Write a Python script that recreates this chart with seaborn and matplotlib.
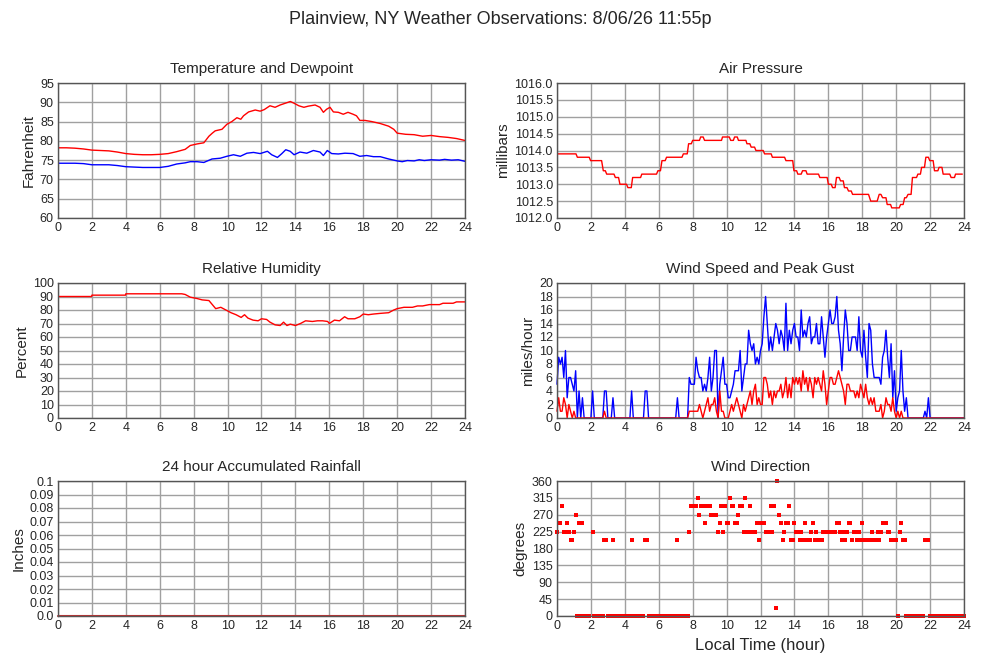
import matplotlib
matplotlib.use("Agg")
import matplotlib.pyplot as plt
import numpy as np
import seaborn as sns

sns.set_style("white")
plt.rcParams['font.family'] = ['Liberation Sans', 'DejaVu Sans']

# temperature / dewpoint (F)
temp_hours = [0, 0.5, 1.0, 1.5, 2.0, 2.5, 3.0, 3.5, 4.0, 4.5, 5.0, 5.5, 6.0, 6.5, 7.0, 7.5,
              7.8, 8.2, 8.6, 8.9, 9.1, 9.27, 9.67, 9.96, 10.25, 10.55, 10.78, 10.94, 11.24,
              11.63, 11.92, 12.16, 12.5, 12.8, 13.1, 13.3, 13.7, 13.9, 14.2, 14.5, 14.76,
              15.16, 15.45, 15.65, 15.84, 16.04, 16.24, 16.53, 16.82, 17.1, 17.4, 17.6, 17.8,
              18.1, 18.5, 19.0, 19.5, 19.8, 20.0, 20.5, 21.0, 21.5, 22.0, 22.5, 23.0, 23.5, 24.0]
temp_f = [78.2, 78.2, 78.1, 77.9, 77.6, 77.5, 77.4, 77.1, 76.7, 76.5, 76.4, 76.4, 76.5, 76.7,
          77.2, 77.8, 78.8, 79.2, 79.5, 81.2, 82.0, 82.6, 83.0, 84.3, 85.0, 86.0, 85.6, 86.5,
          87.5, 88.0, 87.7, 88.1, 89.1, 88.7, 89.3, 89.6, 90.2, 89.8, 89.1, 88.7, 89.0, 89.3,
          88.7, 87.4, 88.2, 88.7, 87.5, 87.4, 86.9, 87.4, 86.9, 86.5, 85.3, 85.3, 85.0, 84.5,
          83.8, 83.0, 82.0, 81.7, 81.6, 81.2, 81.4, 81.1, 80.9, 80.6, 80.1]

dew_hours = [0, 1.0, 1.5, 2.0, 3.0, 3.5, 4.0, 5.0, 6.0, 6.5, 7.0, 7.5, 7.8, 8.2, 8.6, 9.08,
             9.57, 9.96, 10.35, 10.75, 11.14, 11.53, 11.92, 12.35, 12.6, 12.94, 13.2, 13.43,
             13.69, 13.92, 14.27, 14.67, 15.06, 15.45, 15.65, 15.88, 16.14, 16.53, 16.92,
             17.4, 17.8, 18.2, 18.6, 19.0, 19.5, 20.0, 20.3, 20.6, 21.0, 21.3, 21.6, 22.0,
             22.5, 22.8, 23.2, 23.6, 24.0]
dew_f = [74.2, 74.2, 74.1, 73.8, 73.8, 73.6, 73.3, 73.1, 73.1, 73.4, 74.0, 74.3, 74.6, 74.6,
         74.4, 75.3, 75.5, 76.0, 76.4, 76.0, 76.8, 77.0, 76.7, 77.3, 76.4, 75.7, 76.7, 77.7,
         77.3, 76.4, 77.1, 76.8, 77.5, 77.1, 76.2, 77.5, 76.7, 76.6, 76.8, 76.7, 76.0, 76.2,
         75.9, 75.9, 75.3, 74.8, 74.6, 74.9, 74.8, 75.1, 74.9, 75.1, 75.0, 75.2, 75.0, 75.1,
         74.7]

# air pressure: flat levels (start hour, end hour, millibars)
pres_start = [0.0, 1.2, 1.98, 2.73, 2.93, 3.44, 3.71, 4.18, 4.46, 5.0, 5.95, 6.19, 6.46, 7.45,
              7.76, 8.0, 8.47, 8.7, 9.76, 10.24, 10.47, 10.7, 11.2, 11.45, 11.73, 12.24, 12.7,
              13.5, 13.97, 14.2, 14.48, 14.75, 15.5, 16.0, 16.25, 16.48, 16.72, 16.95, 17.19,
              17.43, 18.5, 19.0, 19.2, 19.47, 19.74, 20.26, 20.5, 20.7, 20.96, 21.28, 21.5,
              21.75, 21.98, 22.26, 22.53, 22.77, 23.24, 23.5]
pres_end = [1.12, 1.9, 2.63, 2.85, 3.36, 3.63, 4.1, 4.38, 4.93, 5.87, 6.1, 6.38, 7.37, 7.68,
            7.92, 8.4, 8.62, 9.7, 10.16, 10.4, 10.63, 11.14, 11.37, 11.65, 12.16, 12.63, 13.42,
            13.9, 14.13, 14.4, 14.68, 15.42, 15.93, 16.17, 16.4, 16.64, 16.88, 17.1, 17.35,
            18.37, 18.88, 19.1, 19.4, 19.67, 20.18, 20.41, 20.6, 20.88, 21.2, 21.43, 21.67,
            21.9, 22.18, 22.46, 22.7, 23.16, 23.44, 23.9]
pres_mb = [1013.9, 1013.8, 1013.7, 1013.4, 1013.3, 1013.2, 1013.0, 1012.9, 1013.2, 1013.3,
           1013.4, 1013.7, 1013.8, 1013.9, 1014.2, 1014.3, 1014.4, 1014.3, 1014.4, 1014.3,
           1014.4, 1014.3, 1014.2, 1014.1, 1014.0, 1013.9, 1013.8, 1013.7, 1013.4, 1013.3,
           1013.4, 1013.3, 1013.2, 1013.0, 1012.9, 1013.2, 1013.1, 1012.9, 1012.8, 1012.7,
           1012.5, 1012.7, 1012.6, 1012.4, 1012.3, 1012.4, 1012.6, 1012.7, 1013.2, 1013.3,
           1013.5, 1013.8, 1013.7, 1013.4, 1013.5, 1013.3, 1013.2, 1013.3]

# relative humidity (%)
rh_hours = [0, 1.98, 2.0, 3.98, 4.0, 7.3, 7.5, 7.8, 8.2, 8.5, 8.9, 9.1, 9.3, 9.6, 9.9, 10.2,
            10.5, 10.8, 11.0, 11.2, 11.5, 11.8, 12.0, 12.3, 12.5, 12.8, 13.1, 13.3, 13.5, 13.7,
            14.0, 14.3, 14.6, 15.0, 15.3, 15.6, 15.9, 16.0, 16.3, 16.6, 16.9, 17.1, 17.5, 17.8,
            18.0, 18.3, 18.6, 19.0, 19.5, 19.8, 20.0, 20.4, 20.9, 21.2, 21.5, 21.9, 22.5, 22.7,
            23.3, 23.5, 24.0]
rh_pct = [90, 90, 91, 91, 92, 92, 91.5, 89.5, 88.5, 87.5, 87, 84, 81, 82, 80, 78, 76.5, 74.5,
          76.5, 74, 72.5, 72, 73.5, 73, 71, 69, 68.5, 71, 68.5, 69.5, 68.5, 70, 72, 71.5, 72,
          72, 71.5, 70, 72.5, 72, 75, 73.5, 73.5, 75, 77, 76.5, 77, 77.5, 78, 80, 81, 82, 82,
          83, 83, 84, 84, 85, 85, 86, 86]

# wind, one reading every 0.1 hour, ten per row (one row per hour), last value at 24:00
wind_gust = [
    5, 9, 8, 9, 6, 10, 3, 6, 6, 5,
    4, 7, 0, 4, 0, 3, 0, 0, 0, 0,
    0, 4, 0, 0, 0, 0, 0, 0, 4, 4,
    0, 0, 0, 3, 0, 0, 0, 0, 0, 0,
    0, 0, 0, 0, 4, 0, 0, 0, 0, 0,
    0, 0, 4, 4, 0, 0, 0, 0, 0, 0,
    0, 0, 0, 0, 0, 0, 0, 0, 0, 0,
    0, 3, 0, 0, 0, 0, 0, 0, 6, 5,
    5, 5, 9, 7, 6, 6, 4, 5, 4, 6,
    9, 4, 6, 10, 10, 0, 5, 7, 9, 5,
    5, 3, 3, 4, 5, 7, 7, 7, 10, 4,
    6, 8, 8, 13, 11, 10, 11, 8, 9, 8,
    10, 11, 15, 18, 14, 10, 12, 10, 12, 14,
    13, 11, 13, 12, 10, 17, 10, 13, 11, 13,
    14, 12, 12, 10, 16, 12, 13, 12, 14, 15,
    11, 12, 12, 14, 11, 11, 15, 12, 9, 12,
    14, 16, 14, 14, 15, 18, 13, 11, 7, 12,
    16, 14, 10, 10, 12, 12, 12, 10, 15, 10,
    9, 13, 9, 6, 14, 13, 8, 6, 6, 6,
    6, 5, 9, 10, 13, 9, 6, 11, 3, 7,
    1, 3, 4, 10, 4, 1, 3, 0, 0, 0,
    0, 0, 0, 0, 0, 0, 0, 1, 0, 3,
    0, 0, 0, 0, 0, 0, 0, 0, 0, 0,
    0, 0, 0, 0, 0, 0, 0, 0, 0, 0,
    0]
wind_speed = [
    1, 3, 1, 1, 3, 2, 0, 2, 1, 0,
    1, 0, 0, 0, 0, 0, 0, 0, 0, 0,
    0, 0, 0, 0, 0, 0, 0, 0, 1, 0,
    0, 0, 0, 0, 0, 0, 0, 0, 0, 0,
    0, 0, 0, 0, 0, 0, 0, 0, 0, 0,
    0, 0, 0, 0, 0, 0, 0, 0, 0, 0,
    0, 0, 0, 0, 0, 0, 0, 0, 0, 0,
    0, 0, 0, 0, 0, 0, 0, 0, 1, 1,
    1, 1, 1, 1, 2, 1, 0, 1, 2, 3,
    1, 2, 2, 3, 1, 0, 4, 1, 1, 0,
    0, 0, 1, 2, 1, 2, 3, 2, 1, 0,
    2, 1, 2, 3, 4, 2, 4, 5, 2, 3,
    2, 2, 6, 6, 5, 3, 4, 2, 4, 3,
    4, 4, 5, 3, 4, 6, 3, 5, 3, 6,
    5, 6, 5, 6, 4, 7, 5, 6, 4, 6,
    5, 3, 6, 5, 6, 5, 4, 7, 5, 2,
    4, 6, 6, 5, 5, 6, 7, 6, 5, 4,
    2, 5, 5, 4, 4, 4, 3, 4, 3, 5,
    4, 3, 5, 3, 2, 3, 2, 3, 1, 1,
    1, 2, 0, 1, 3, 2, 2, 1, 3, 1,
    0, 1, 0, 1, 0, 0, 0, 0, 0, 0,
    0, 0, 0, 0, 0, 0, 0, 0, 0, 0,
    0, 0, 0, 0, 0, 0, 0, 0, 0, 0,
    0, 0, 0, 0, 0, 0, 0, 0, 0, 0,
    0]
nan = float('nan')
wind_dir = [
    225, 247.5, 247.5, 292.5, 225, 225, 247.5, 225, 202.5, 202.5,
    225, 270, 0, 247.5, 0, 247.5, 0, 0, 0, 0,
    nan, 225, 0, 0, 0, 0, 0, 0, 202.5, 202.5,
    0, 0, 0, 202.5, 0, 0, 0, 0, 0, 0,
    0, 0, 0, 0, 202.5, 0, 0, 0, 0, 0,
    0, 0, 202.5, 202.5, 0, 0, 0, 0, 0, 0,
    0, 0, 0, 0, 0, 0, 0, 0, 0, 0,
    0, 202.5, 0, 0, 0, 0, 0, 0, 225, 292.5,
    292.5, 292.5, 292.5, 315, 270, 292.5, 292.5, 247.5, 292.5, 292.5,
    292.5, 270, 270, 270, 270, 225, 247.5, 292.5, 225, 292.5,
    247.5, 247.5, 315, 292.5, 292.5, 247.5, 247.5, 270, 292.5, 292.5,
    225, 315, 225, 225, 292.5, 225, 225, 225, 247.5, 202.5,
    247.5, 247.5, 247.5, 225, 225, 225, 292.5, 225, 292.5, 22.5,
    360, 270, 247.5, 202.5, 225, 247.5, 247.5, 292.5, 202.5, 202.5,
    247.5, 225, 225, 202.5, 225, 202.5, 247.5, 202.5, 202.5, 202.5,
    225, 247.5, 202.5, 225, 202.5, 202.5, 202.5, 225, 225, 225,
    225, 225, 225, 225, 225, 247.5, 247.5, 225, 202.5, 225,
    202.5, 225, 247.5, 247.5, 202.5, 225, 225, 202.5, 225, 202.5,
    247.5, 202.5, 202.5, 202.5, 202.5, 202.5, 225, 202.5, 202.5, 225,
    202.5, 225, 247.5, 247.5, 247.5, 225, 225, 202.5, 202.5, 202.5,
    202.5, 0, 225, 247.5, 202.5, 202.5, 0, 0, 0, 0,
    0, 0, 0, 0, 0, 0, 0, 202.5, 202.5, 202.5,
    0, 0, 0, 0, 0, 0, 0, 0, 0, 0,
    0, 0, 0, 0, 0, 0, 0, 0, 0, 0,
    0]
wind_hours = np.round(np.arange(len(wind_gust)) * 0.1, 1)

# no rain today
rain_hours = [0, 24]
rain_in = [0.0, 0.0]

# pressure levels -> stepped line
pres_hours = [h for s, e in zip(pres_start, pres_end) for h in (s, e)]
pres_vals = [p for p in pres_mb for _ in (0, 1)]

fig = plt.figure(figsize=(10, 6.6), dpi=100)
W, H = 1000.0, 660.0


def panel(px, py, title, ylabel, ylim, yticks, ylabels=None):
    # px, py = left/top pixel of the plot box
    ax = fig.add_axes([px / W, 1 - (py + 135) / H, 407 / W, 135 / H])
    ax.set_xlim(0, 24)
    ax.set_ylim(*ylim)
    ax.set_xticks(range(0, 25, 2))
    ax.set_yticks(yticks)
    if ylabels is not None:
        ax.set_yticklabels(ylabels)
    ax.grid(True, color='#a0a0a0', lw=1)
    ax.set_axisbelow(True)
    for s in ax.spines.values():
        s.set_color('#555555')
        s.set_linewidth(1)
    ax.tick_params(length=0, labelsize=9, pad=3)
    ax.set_title(title, fontsize=11, pad=7)
    ax.set_ylabel(ylabel, fontsize=11, labelpad=3)
    return ax


ax = panel(58, 83, 'Temperature and Dewpoint', 'Fahrenheit', (60, 95), range(60, 96, 5))
sns.lineplot(x=dew_hours, y=dew_f, ax=ax, color='#0000ff', lw=1, estimator=None, sort=False)
sns.lineplot(x=temp_hours, y=temp_f, ax=ax, color='#ff0000', lw=1, estimator=None, sort=False)

ptick = np.arange(1012.0, 1016.01, 0.5)
ax = panel(557, 83, 'Air Pressure', 'millibars', (1012, 1016), ptick,
           ['%.1f' % t for t in ptick])
sns.lineplot(x=pres_hours, y=pres_vals, ax=ax, color='#ff0000', lw=1, estimator=None, sort=False)

ax = panel(58, 283, 'Relative Humidity', 'Percent', (0, 100), range(0, 101, 10))
sns.lineplot(x=rh_hours, y=rh_pct, ax=ax, color='#ff0000', lw=1, estimator=None, sort=False)

ax = panel(557, 283, 'Wind Speed and Peak Gust', 'miles/hour', (0, 20), range(0, 21, 2))
sns.lineplot(x=wind_hours, y=wind_gust, ax=ax, color='#0000ff', lw=1, estimator=None,
             sort=False, clip_on=False)
sns.lineplot(x=wind_hours, y=wind_speed, ax=ax, color='#ff0000', lw=1, estimator=None,
             sort=False, clip_on=False)

rtick = [0.0, 0.01, 0.02, 0.03, 0.04, 0.05, 0.06, 0.07, 0.08, 0.09, 0.1]
ax = panel(58, 481, '24 hour Accumulated Rainfall', 'Inches', (0, 0.1), rtick,
           ['0.0', '0.01', '0.02', '0.03', '0.04', '0.05', '0.06', '0.07', '0.08', '0.09', '0.1'])
sns.lineplot(x=rain_hours, y=rain_in, ax=ax, color='#c03030', lw=1.5, estimator=None,
             sort=False, clip_on=False)

ax = panel(557, 481, 'Wind Direction', 'degrees', (0, 360), range(0, 361, 45))
sns.scatterplot(x=wind_hours, y=wind_dir, ax=ax, color='#ff0000', marker='s', s=5,
                linewidth=0, clip_on=False)
ax.set_xlabel('Local Time (hour)', fontsize=12, labelpad=4)

fig.text(0.5, 1 - 20 / H, 'Plainview, NY Weather Observations: 8/06/26 11:55p',
         ha='center', va='center', fontsize=13)

fig.savefig('out.png', dpi=100, facecolor='white')
